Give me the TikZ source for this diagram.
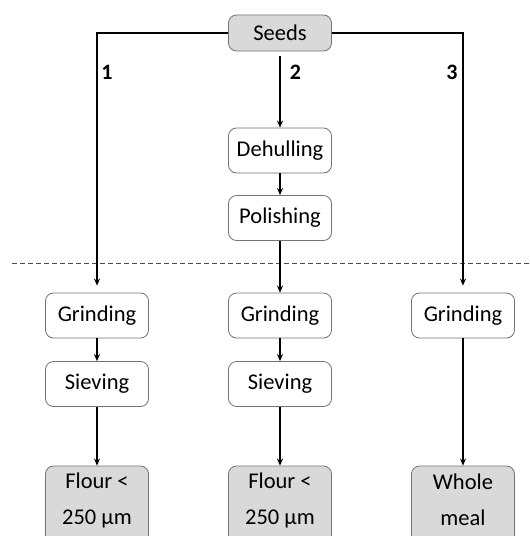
\documentclass[tikz,border=0pt]{standalone}
\usepackage{fontspec}
\setmainfont{Carlito}
\usetikzlibrary{arrows.meta}
\begin{document}
\begin{tikzpicture}[x=1pt,y=-1pt,
  box/.style={draw=black!55, line width=0.8pt, rounded corners=8pt, minimum width=103pt, minimum height=45pt, inner sep=0pt, font=\fontsize{22.5}{27}\selectfont, fill=white},
  graybox/.style={box, fill=black!15},
  endbox/.style={graybox, minimum height=84pt},
  endtext/.style={label={[align=center, font=\fontsize{22.5}{36}\selectfont, inner sep=0pt, yshift=8pt]center:#1}},
  conn/.style={line width=1.6pt, -{Stealth[length=7pt,width=6pt]}},
  lab/.style={font=\fontsize{22}{26}\selectfont\bfseries, inner sep=0pt}
]
\useasboundingbox (0,0) rectangle (530,536);
\node[graybox, minimum height=36pt] (seeds) at (280,33) {Seeds};
\node[box] (dehull) at (280,150.5) {Dehulling};
\node[box] (polish) at (280,218) {Polishing};
\node[box] (g1) at (97,315.5) {Grinding};
\node[box] (g2) at (280,315.5) {Grinding};
\node[box] (g3) at (463,315.5) {Grinding};
\node[box] (s1) at (97,384) {Sieving};
\node[box] (s2) at (280,384) {Sieving};
\node[endbox, endtext={Flour <\\250 µm}] (f1) at (97,508) {};
\node[endbox, endtext={Flour <\\250 µm}] (f2) at (280,508) {};
\node[endbox, endtext={Whole\\meal}] (w) at (463,508) {};
\coordinate (c1) at (97,33);
\coordinate (c3) at (463,33);
\draw[dashed, dash pattern=on 5pt off 3pt, black!70, line width=0.9pt] (12,263) -- (530,263);
\draw[conn, shorten >=7pt] (seeds.west) -- (c1) -- (g1.north);
\draw[conn, shorten >=7pt] (seeds.east) -- (c3) -- (g3.north);
\draw[conn, shorten <=5pt] (seeds.south) -- (dehull.north);
\draw[conn] (dehull) -- (polish);
\draw[conn] (polish) -- (g2);
\draw[conn] (g1) -- (s1);
\draw[conn] (g2) -- (s2);
\draw[conn] (s1) -- (f1);
\draw[conn] (s2) -- (f2);
\draw[conn] (g3) -- (w);
\node[lab] (l1) at (107,72) {1};
\node[lab] (l2) at (295.5,72) {2};
\node[lab] (l3) at (452,72) {3};
\end{tikzpicture}
\end{document}
